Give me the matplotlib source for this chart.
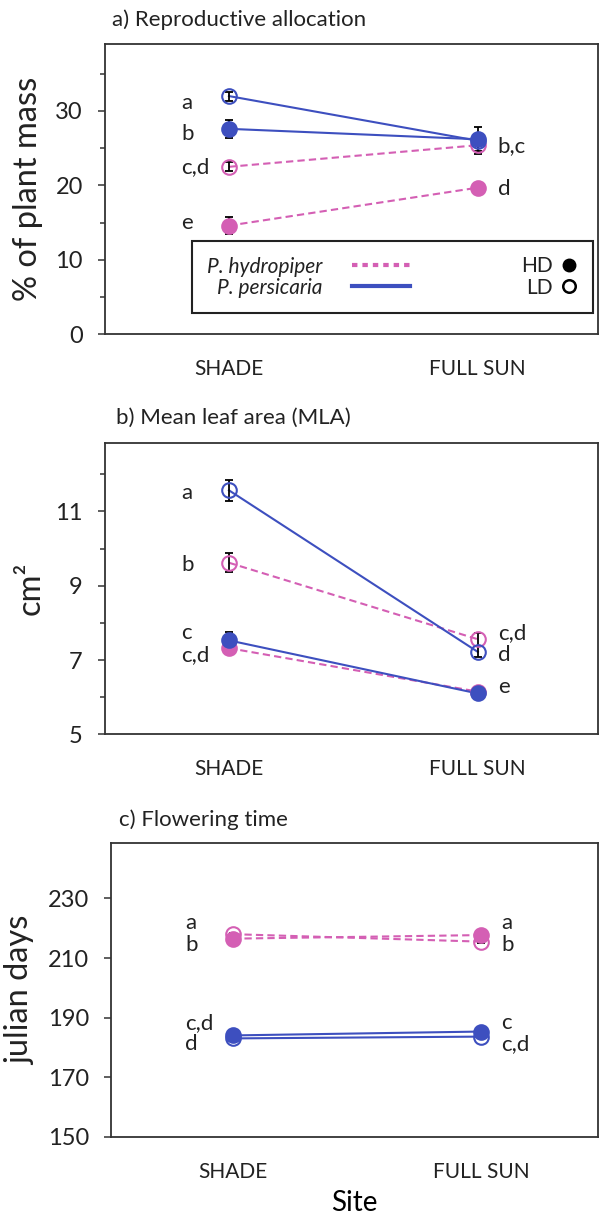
import numpy as np
import matplotlib
matplotlib.use('Agg')
import matplotlib.pyplot as plt
from matplotlib.lines import Line2D
from matplotlib.ticker import MultipleLocator

plt.rcParams['font.family'] = ['Lato', 'DejaVu Sans']
plt.rcParams['text.color'] = '#222222'
plt.rcParams['axes.edgecolor'] = '#333333'
plt.rcParams['xtick.color'] = '#333333'
plt.rcParams['ytick.color'] = '#333333'
plt.rcParams['xtick.labelcolor'] = '#222222'
plt.rcParams['ytick.labelcolor'] = '#222222'

sites = ['SHADE', 'FULL SUN']
BLUE = '#3d4fbf'
PINK = '#d45fb4'

# a) reproductive allocation, % of plant mass  (SHADE, FULL SUN)
ra_hyd_hd = [14.6, 19.7]
ra_hyd_hd_err = [1.1, 0.3]
ra_hyd_ld = [22.5, 25.4]
ra_hyd_ld_err = [0.6, 0.8]
ra_per_hd = [27.6, 26.2]
ra_per_hd_err = [1.2, 0.5]
ra_per_ld = [32.0, 26.0]
ra_per_ld_err = [0.6, 1.8]
ra_letters_left = ['a', 'b', 'c,d', 'e']
ra_letters_left_y = [31.1, 26.9, 22.4, 14.9]
ra_letters_right = ['b,c', 'd']
ra_letters_right_y = [25.3, 19.5]

# b) mean leaf area, cm2
mla_hyd_hd = [7.32, 6.15]
mla_hyd_hd_err = [0.15, 0.1]
mla_hyd_ld = [9.62, 7.56]
mla_hyd_ld_err = [0.25, 0.18]
mla_per_hd = [7.53, 6.10]
mla_per_hd_err = [0.23, 0.12]
mla_per_ld = [11.57, 7.22]
mla_per_ld_err = [0.28, 0.15]
mla_letters_left = ['a', 'b', 'c', 'c,d']
mla_letters_left_y = [11.5, 9.56, 7.72, 7.13]
mla_letters_right = ['c,d', 'd', 'e']
mla_letters_right_y = [7.72, 7.13, 6.27]

# c) flowering time, julian days
ft_hyd_hd = [216.5, 217.7]
ft_hyd_ld = [218.0, 215.5]
ft_per_hd = [184.0, 185.3]
ft_per_ld = [183.0, 183.6]
ft_err = [0.5, 0.5]
ft_ticks = [150, 170, 190, 210, 230]
ft_letters_left = ['a', 'b', 'c,d', 'd']
ft_letters_left_y = [221.7, 214.3, 188.3, 181.1]
ft_letters_right = ['a', 'b', 'c', 'c,d']
ft_letters_right_y = [221.7, 214.3, 188.3, 181.1]

DASH = (0, (3.5, 2))
x = np.arange(len(sites))


def draw(ax, series):
    for vals, errs, color, ls, filled in series:
        ax.errorbar(x, vals, yerr=errs, fmt='none', ecolor='black',
                    elinewidth=1.3, capsize=3, capthick=1.3, zorder=3)
        ax.plot(x, vals, color=color, ls=ls, lw=1.5, zorder=2)
        ax.plot(x, vals, ls='none', marker='o', ms=10.5, mew=1.5, mec=color,
                mfc=color if filled else 'none', zorder=4)


def letters(ax, left, left_y, right, right_y):
    for t, yy in zip(left, left_y):
        ax.annotate(t, xy=(0, yy), xytext=(-34.5, 0), textcoords='offset points',
                    ha='left', va='center', fontsize=16)
    for t, yy in zip(right, right_y):
        ax.annotate(t, xy=(1, yy), xytext=(14.4, 0), textcoords='offset points',
                    ha='left', va='center', fontsize=16)


def style(ax, xlim):
    ax.set_xlim(*xlim)
    ax.set_xticks(x, sites)
    ax.tick_params(axis='x', length=0, pad=18, labelsize=15)
    ax.tick_params(axis='y', which='major', direction='out', length=5, width=1.1,
                   labelsize=17, pad=11)
    ax.tick_params(axis='y', which='minor', direction='out', length=3.6, width=1.1)
    for s in ax.spines.values():
        s.set_linewidth(1.3)


fig = plt.figure(figsize=(6.01, 12.14), dpi=100)

# ---- a)
ax1 = fig.add_axes([0.1747, 0.7246, 0.8203, 0.2392])
draw(ax1, [(ra_hyd_hd, ra_hyd_hd_err, PINK, DASH, True),
           (ra_hyd_ld, ra_hyd_ld_err, PINK, DASH, False),
           (ra_per_hd, ra_per_hd_err, BLUE, '-', True),
           (ra_per_ld, ra_per_ld_err, BLUE, '-', False)])
ax1.set_ylim(0, 39)
ax1.yaxis.set_major_locator(MultipleLocator(10))
ax1.yaxis.set_minor_locator(MultipleLocator(5))
style(ax1, (-0.498, 1.483))
letters(ax1, ra_letters_left, ra_letters_left_y, ra_letters_right, ra_letters_right_y)
ax1.text(0.014, 1.083, 'a) Reproductive allocation', transform=ax1.transAxes,
         ha='left', va='center', fontsize=16)

box = (0.176, 0.074, 0.814, 0.247)
h_hyd = Line2D([], [], color=PINK, lw=3, ls=(0, (1.3, 1.2)))
h_per = Line2D([], [], color=BLUE, lw=3)
leg1 = ax1.legend([h_hyd, h_per], ['P. hydropiper', 'P. persicaria'],
                  loc='upper left', bbox_to_anchor=box, mode='expand',
                  borderaxespad=0, markerfirst=False, handlelength=2.8,
                  handletextpad=1.4, prop={'style': 'italic', 'size': 15},
                  fancybox=False, edgecolor='#222222', framealpha=1,
                  labelspacing=0.05, borderpad=0.75)
leg1.get_frame().set_linewidth(1.5)
ax1.add_artist(leg1)
h_hd = Line2D([], [], ls='none', marker='o', color='black', ms=9)
h_ld = Line2D([], [], ls='none', marker='o', mfc='none', mec='black', mew=1.8, ms=9)
ax1.legend([h_hd, h_ld], ['HD', 'LD'], loc='center right', bbox_to_anchor=box,
           borderaxespad=0, markerfirst=False, frameon=False, handlelength=0.8,
           handletextpad=0.4, prop={'size': 15}, labelspacing=0.05, borderpad=0.75)
fig.text(28 / 601, 1 - 189 / 1214, '% of plant mass', rotation=90, ha='center',
         va='center', fontsize=23.5)

# ---- b)
ax2 = fig.add_axes([0.1747, 0.3951, 0.8203, 0.2402])
draw(ax2, [(mla_hyd_hd, mla_hyd_hd_err, PINK, DASH, True),
           (mla_hyd_ld, mla_hyd_ld_err, PINK, DASH, False),
           (mla_per_hd, mla_per_hd_err, BLUE, '-', True),
           (mla_per_ld, mla_per_ld_err, BLUE, '-', False)])
ax2.set_ylim(5, 12.85)
ax2.set_yticks([5, 7, 9, 11])
ax2.set_yticks([6, 8, 10, 12], minor=True)
style(ax2, (-0.498, 1.483))
letters(ax2, mla_letters_left, mla_letters_left_y, mla_letters_right, mla_letters_right_y)
ax2.text(0.022, 1.085, 'b) Mean leaf area (MLA)', transform=ax2.transAxes,
         ha='left', va='center', fontsize=16)
fig.text(31 / 601, 1 - 588 / 1214, 'cm²', rotation=90, ha='center',
         va='center', fontsize=23.5)

# ---- c)
ax3 = fig.add_axes([0.1847, 0.0637, 0.8103, 0.2416])
draw(ax3, [(ft_hyd_hd, ft_err, PINK, DASH, True),
           (ft_hyd_ld, ft_err, PINK, DASH, False),
           (ft_per_hd, ft_err, BLUE, '-', True),
           (ft_per_ld, ft_err, BLUE, '-', False)])
ax3.set_ylim(150, 248.5)
ax3.set_yticks(ft_ticks)
style(ax3, (-0.492, 1.472))
letters(ax3, ft_letters_left, ft_letters_left_y, ft_letters_right, ft_letters_right_y)
ax3.text(0.017, 1.079, 'c) Flowering time', transform=ax3.transAxes,
         ha='left', va='center', fontsize=16)
fig.text(20 / 601, 1 - 990 / 1214, 'julian days', rotation=90, ha='center',
         va='center', fontsize=23.5)
ax3.set_xlabel('Site', fontsize=20, labelpad=6)

fig.savefig('out.png', dpi=100)
